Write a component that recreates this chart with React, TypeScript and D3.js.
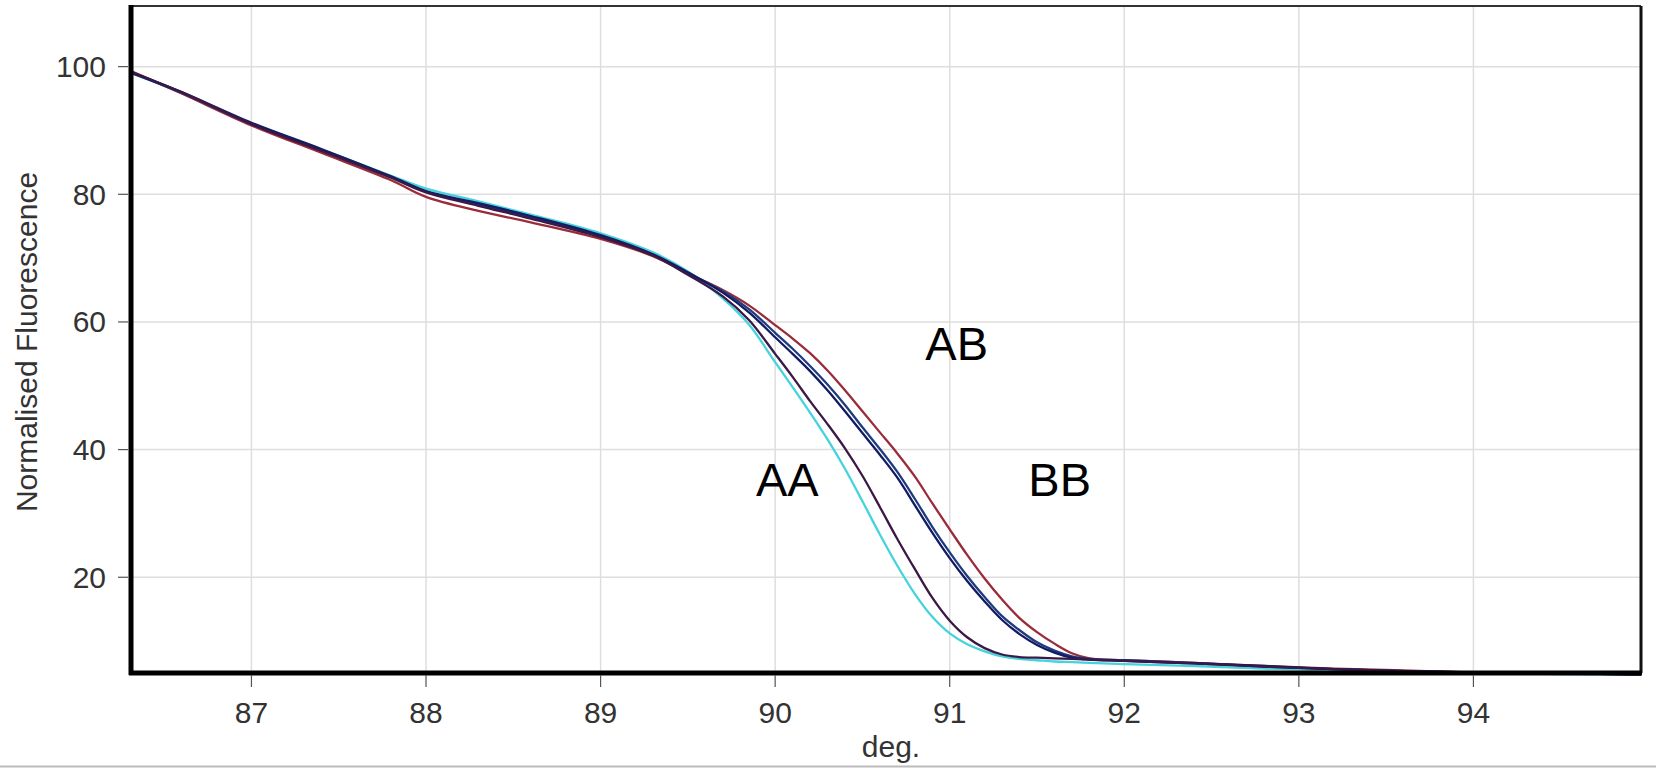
import React from "react";
import * as d3 from "d3";

// temperatures (deg.) shared by all traces
const temps = [86.31, 86.6, 87.0, 87.4, 87.8, 88.0, 88.3, 88.6, 89.0, 89.3, 89.5, 89.7, 89.85, 90.0, 90.1, 90.2, 90.3, 90.4, 90.5, 90.6, 90.7, 90.8, 90.9, 91.0, 91.1, 91.2, 91.3, 91.4, 91.5, 91.6, 91.7, 91.8, 92.0, 92.4, 92.8, 93.2, 93.6, 94.0, 94.6, 94.96];

// normalised fluorescence per sample
const aaCyan = [99.0, 95.9, 91.1, 87.0, 82.9, 80.9, 78.9, 76.8, 73.9, 70.9, 67.9, 63.7, 59.6, 53.7, 49.8, 45.8, 41.6, 37.0, 31.9, 26.7, 21.8, 17.4, 13.8, 11.2, 9.5, 8.4, 7.6, 7.2, 7.0, 6.8, 6.7, 6.6, 6.4, 6.1, 5.7, 5.4, 5.2, 5.0, 4.8, 4.7];
const aaPurple = [99.2, 96.0, 91.0, 86.8, 82.6, 80.3, 78.2, 76.2, 73.3, 70.4, 67.4, 64.0, 60.3, 55.0, 51.4, 47.6, 44.0, 40.2, 35.9, 31.0, 26.0, 21.3, 16.8, 13.2, 10.6, 8.9, 7.9, 7.5, 7.4, 7.3, 7.2, 7.1, 6.9, 6.5, 6.0, 5.6, 5.3, 5.1, 4.9, 4.8];
const abNavy = [99.1, 96.0, 91.2, 87.1, 82.8, 80.5, 78.6, 76.6, 73.6, 70.6, 67.8, 64.6, 61.5, 57.6, 55.0, 52.3, 49.3, 46.0, 42.6, 39.2, 35.6, 31.3, 27.0, 23.0, 19.4, 16.2, 13.3, 11.1, 9.4, 8.2, 7.4, 7.1, 6.9, 6.5, 6.1, 5.6, 5.3, 5.1, 4.9, 4.8];
const abBlue = [99.0, 95.9, 91.0, 86.9, 82.7, 80.4, 78.4, 76.4, 73.5, 70.5, 67.6, 64.8, 62.0, 58.3, 55.8, 53.1, 50.2, 47.0, 43.5, 40.1, 36.5, 32.3, 27.9, 23.9, 20.2, 16.9, 13.9, 11.7, 9.8, 8.5, 7.6, 7.2, 7.0, 6.6, 6.0, 5.6, 5.3, 5.1, 4.9, 4.8];
const bbRed = [99.3, 95.8, 90.8, 86.5, 82.2, 79.6, 77.4, 75.6, 73.0, 70.3, 67.6, 65.0, 62.6, 59.5, 57.4, 55.1, 52.4, 49.3, 46.0, 42.7, 39.4, 35.8, 31.6, 27.5, 23.5, 19.8, 16.5, 13.6, 11.4, 9.6, 8.1, 7.3, 7.0, 6.6, 6.1, 5.7, 5.4, 5.1, 4.9, 4.8];

const xTicks = [87, 88, 89, 90, 91, 92, 93, 94];
const yTicks = [20, 40, 60, 80, 100];

// genotype labels: [text, temp, value]
const genotypeLabels: [string, number, number][] = [
  ["AB", 91.04, 54.1],
  ["AA", 90.07, 32.7],
  ["BB", 91.63, 32.7],
];

const W = 1656;
const H = 768;
const left = 131, right = 1641, top = 6, bottom = 673;
const font = "'Liberation Sans', Arial, sans-serif";

const App = () => {
  const x = d3.scaleLinear().domain([86.31, 94.96]).range([left, right]);
  const y = d3.scaleLinear().domain([5.0, 109.5]).range([bottom, top]);

  const line = d3
    .line<number>()
    .x((_, i) => x(temps[i]))
    .y((d) => y(d))
    .curve(d3.curveCatmullRom.alpha(0.5));

  const traces = [
    { values: aaCyan, color: "#45d3de" },
    { values: bbRed, color: "#9a2c3a" },
    { values: abBlue, color: "#1f3b80" },
    { values: abNavy, color: "#121c62" },
    { values: aaPurple, color: "#3b1846" },
  ];

  return (
    <svg
      width={W}
      height={H}
      style={{ position: "absolute", left: 0, top: 0, background: "#fff" }}
    >
      <rect x={0} y={0} width={W} height={H} fill="#fff" />

      {/* grid */}
      {xTicks.map((t) => (
        <line key={"gx" + t} x1={x(t)} x2={x(t)} y1={top} y2={bottom} stroke="#dedede" strokeWidth={1.5} />
      ))}
      {yTicks.map((t) => (
        <line key={"gy" + t} x1={left} x2={right} y1={y(t)} y2={y(t)} stroke="#dedede" strokeWidth={1.5} />
      ))}

      {/* curves */}
      {traces.map((tr, i) => (
        <path key={i} d={line(tr.values) || ""} fill="none" stroke={tr.color} strokeWidth={2.3} />
      ))}

      {/* frame */}
      <line x1={left} x2={right} y1={top} y2={top} stroke="#333" strokeWidth={2} />
      <line x1={right} x2={right} y1={top} y2={bottom} stroke="#111" strokeWidth={3} />
      <line x1={left} x2={left} y1={top - 1} y2={bottom + 2} stroke="#000" strokeWidth={5} />
      <line x1={left - 2} x2={right + 1} y1={bottom} y2={bottom} stroke="#000" strokeWidth={5} />

      {/* x axis */}
      {xTicks.map((t) => (
        <g key={"tx" + t}>
          <line x1={x(t)} x2={x(t)} y1={bottom + 2} y2={bottom + 14} stroke="#555" strokeWidth={1.2} />
          <text x={x(t)} y={723} textAnchor="middle" fontFamily={font} fontSize={30} fill="#333">
            {t}
          </text>
        </g>
      ))}
      <text x={891} y={757} textAnchor="middle" fontFamily={font} fontSize={30} fill="#333">
        deg.
      </text>

      {/* y axis */}
      {yTicks.map((t) => (
        <g key={"ty" + t}>
          <line x1={left - 13} x2={left - 3} y1={y(t)} y2={y(t)} stroke="#555" strokeWidth={1.2} />
          <text x={106} y={y(t)} dy="0.35em" textAnchor="end" fontFamily={font} fontSize={30} fill="#333">
            {t}
          </text>
        </g>
      ))}
      <text
        transform="translate(37,342) rotate(-90)"
        textAnchor="middle"
        fontFamily={font}
        fontSize={30}
        fill="#333"
      >
        Normalised Fluorescence
      </text>

      {/* genotype annotations */}
      {genotypeLabels.map(([label, t, v]) => (
        <text key={label} x={x(t)} y={y(v)} textAnchor="middle" fontFamily={font} fontSize={47} fill="#000">
          {label}
        </text>
      ))}

      {/* picture edge */}
      <line x1={0} x2={W} y1={766.5} y2={766.5} stroke="#bbb" strokeWidth={2} />
    </svg>
  );
};

export default App;
